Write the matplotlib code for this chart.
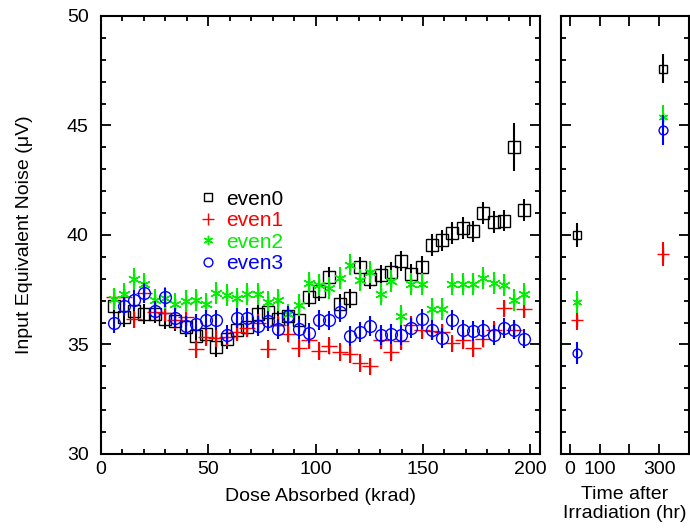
import matplotlib
matplotlib.use("Agg")
import matplotlib.pyplot as plt
from matplotlib.ticker import MultipleLocator, FixedLocator
from matplotlib.lines import Line2D

plt.rcParams["font.family"] = ["Liberation Sans", "DejaVu Sans"]

# dose absorbed (krad)
dose = [5.9, 10.7, 15.4, 20.2, 25.0, 29.8, 34.6, 39.4, 44.1, 48.9,
        53.7, 58.5, 63.3, 68.1, 72.9, 77.6, 82.4, 87.2, 92.0, 96.8,
        101.5, 106.3, 111.1, 115.9, 120.7, 125.5, 130.2, 135.0, 139.8, 144.6,
        149.4, 154.2, 158.9, 163.7, 168.5, 173.3, 178.1, 182.9, 187.6, 192.4,
        197.2]

even0 = [36.74, 36.26, 36.55, 36.40, 36.41, 36.15, 36.05, 35.79, 35.39, 35.48,
         34.87, 35.25, 35.66, 35.80, 36.37, 36.49, 36.17, 36.28, 36.10, 37.17,
         37.44, 38.09, 36.87, 37.10, 38.55, 37.98, 38.17, 38.30, 38.81, 38.22,
         38.56, 39.53, 39.75, 40.10, 40.31, 40.16, 40.99, 40.58, 40.66, 44.01,
         41.14]
even1 = [37.15, 37.15, 36.15, 37.35, 36.50, 36.45, 36.10, 36.25, 34.80, 35.33,
         35.30, 35.35, 35.56, 35.75, 36.00, 34.80, 35.90, 35.50, 34.85, 35.20,
         34.70, 34.95, 34.65, 34.55, 34.15, 34.00, 35.20, 34.65, 35.17, 35.90,
         35.66, 35.60, 35.55, 35.05, 35.20, 34.85, 35.27, 35.67, 36.65, 35.66,
         36.60]
even2 = [37.08, 37.30, 38.00, 37.77, 37.05, 37.12, 36.85, 37.00, 37.05, 36.85,
         37.35, 37.25, 37.10, 37.30, 37.30, 36.95, 37.03, 36.37, 36.80, 37.83,
         37.70, 37.58, 38.05, 38.65, 37.94, 38.30, 37.30, 37.90, 36.30, 37.75,
         37.75, 36.60, 36.60, 37.75, 37.75, 37.78, 38.05, 37.80, 37.70, 37.03,
         37.30]
even3 = [35.96, 36.74, 37.02, 37.36, 36.55, 37.15, 36.20, 35.85, 35.92, 36.11,
         36.13, 35.45, 36.20, 36.20, 35.83, 36.08, 35.72, 36.31, 35.72, 35.51,
         36.12, 36.10, 36.48, 35.40, 35.57, 35.84, 35.42, 35.47, 35.43, 35.76,
         36.15, 35.66, 35.28, 36.13, 35.66, 35.63, 35.67, 35.43, 35.75, 35.68,
         35.27]

err0 = [0.45, 0.45, 0.45, 0.45, 0.45, 0.45, 0.45, 0.45, 0.45, 0.45,
        0.45, 0.45, 0.45, 0.45, 0.45, 0.45, 0.45, 0.45, 0.45, 0.45,
        0.45, 0.45, 0.45, 0.45, 0.45, 0.45, 0.45, 0.45, 0.45, 0.45,
        0.50, 0.50, 0.50, 0.50, 0.50, 0.50, 0.50, 0.50, 0.50, 1.10,
        0.50]
err1 = [0.40] * 41
err2 = [0.50] * 41
err3 = [0.45] * 41

# after irradiation
t_after = [24, 312]
after0 = [40.0, 47.6]
after1 = [36.1, 39.15]
after2 = [36.95, 45.4]
after3 = [34.6, 44.8]
after_err0 = [0.55, 0.65]
after_err1 = [0.45, 0.55]
after_err2 = [0.5, 0.55]
after_err3 = [0.5, 0.7]

labels = ["even0", "even1", "even2", "even3"]
colors = ["black", "#ff0000", "#00ee00", "#0000ff"]
markers = ["s", "+", (6, 2, 0), "o"]
msizes = [8.5, 11.5, 9, 8.5]

fig = plt.figure(figsize=(6.9, 5.29), dpi=100)
ax = fig.add_axes([0.1464, 0.1418, 0.6362, 0.828])
ax2 = fig.add_axes([0.813, 0.1418, 0.1855, 0.828])

main = [even0, even1, even2, even3]
main_err = [err0, err1, err2, err3]
after = [after0, after1, after2, after3]
after_err = [after_err0, after_err1, after_err2, after_err3]

for k in range(4):
    ax.errorbar(dose, main[k], yerr=main_err[k], fmt="none",
                ecolor=colors[k], elinewidth=1.5, capsize=0)
    ax.plot(dose, main[k], linestyle="none", marker=markers[k],
            markersize=msizes[k], markerfacecolor="none",
            markeredgecolor=colors[k], markeredgewidth=1.0)
    ax2.errorbar(t_after, after[k], yerr=after_err[k], fmt="none",
                 ecolor=colors[k], elinewidth=1.5, capsize=0)
    ax2.plot(t_after, after[k], linestyle="none", marker=markers[k],
             markersize=msizes[k] * 0.75, markerfacecolor="none",
             markeredgecolor=colors[k], markeredgewidth=1.0)

handles = [Line2D([], [], linestyle="none", marker=markers[k], color=colors[k],
                  markersize=msizes[k] * 0.75, markerfacecolor="none",
                  markeredgecolor=colors[k]) for k in range(4)]
ax.legend(handles, labels, loc="upper left", bbox_to_anchor=(0.2, 0.627),
          frameon=False, fontsize=15, handlelength=0.8, handletextpad=0.5,
          labelspacing=0.12, labelcolor=colors, borderpad=0)

ax.set_xlim(0, 204.5)
ax.set_ylim(30, 50)
ax.xaxis.set_major_locator(MultipleLocator(50))
ax.xaxis.set_minor_locator(MultipleLocator(10))
ax.yaxis.set_major_locator(MultipleLocator(5))
ax.yaxis.set_minor_locator(MultipleLocator(1))
ax.set_xlabel("Dose Absorbed (krad)", fontsize=14, labelpad=7)
ax.set_ylabel("Input Equivalent Noise (\u03bcV)", fontsize=14, labelpad=24)

ax2.set_xlim(-30, 400)
ax2.set_ylim(30, 50)
ax2.xaxis.set_major_locator(FixedLocator([0, 100, 200, 300]))
ax2.set_xticklabels(["0", "100", "", "300"])
ax2.yaxis.set_major_locator(MultipleLocator(5))
ax2.yaxis.set_minor_locator(MultipleLocator(1))
ax2.set_yticklabels([])
ax2.set_xlabel("Time after\nIrradiation (hr)", fontsize=14, labelpad=6,
               linespacing=1.15)

for a in (ax, ax2):
    a.tick_params(which="both", direction="in", top=True, right=True,
                  labelsize=14, width=1.3)
    a.tick_params(which="major", length=7)
    a.tick_params(which="minor", length=3.5)
    a.tick_params(axis="x", pad=5)
    a.tick_params(axis="y", pad=9)
    for s in a.spines.values():
        s.set_linewidth(1.5)

fig.savefig("out.png", dpi=100)
